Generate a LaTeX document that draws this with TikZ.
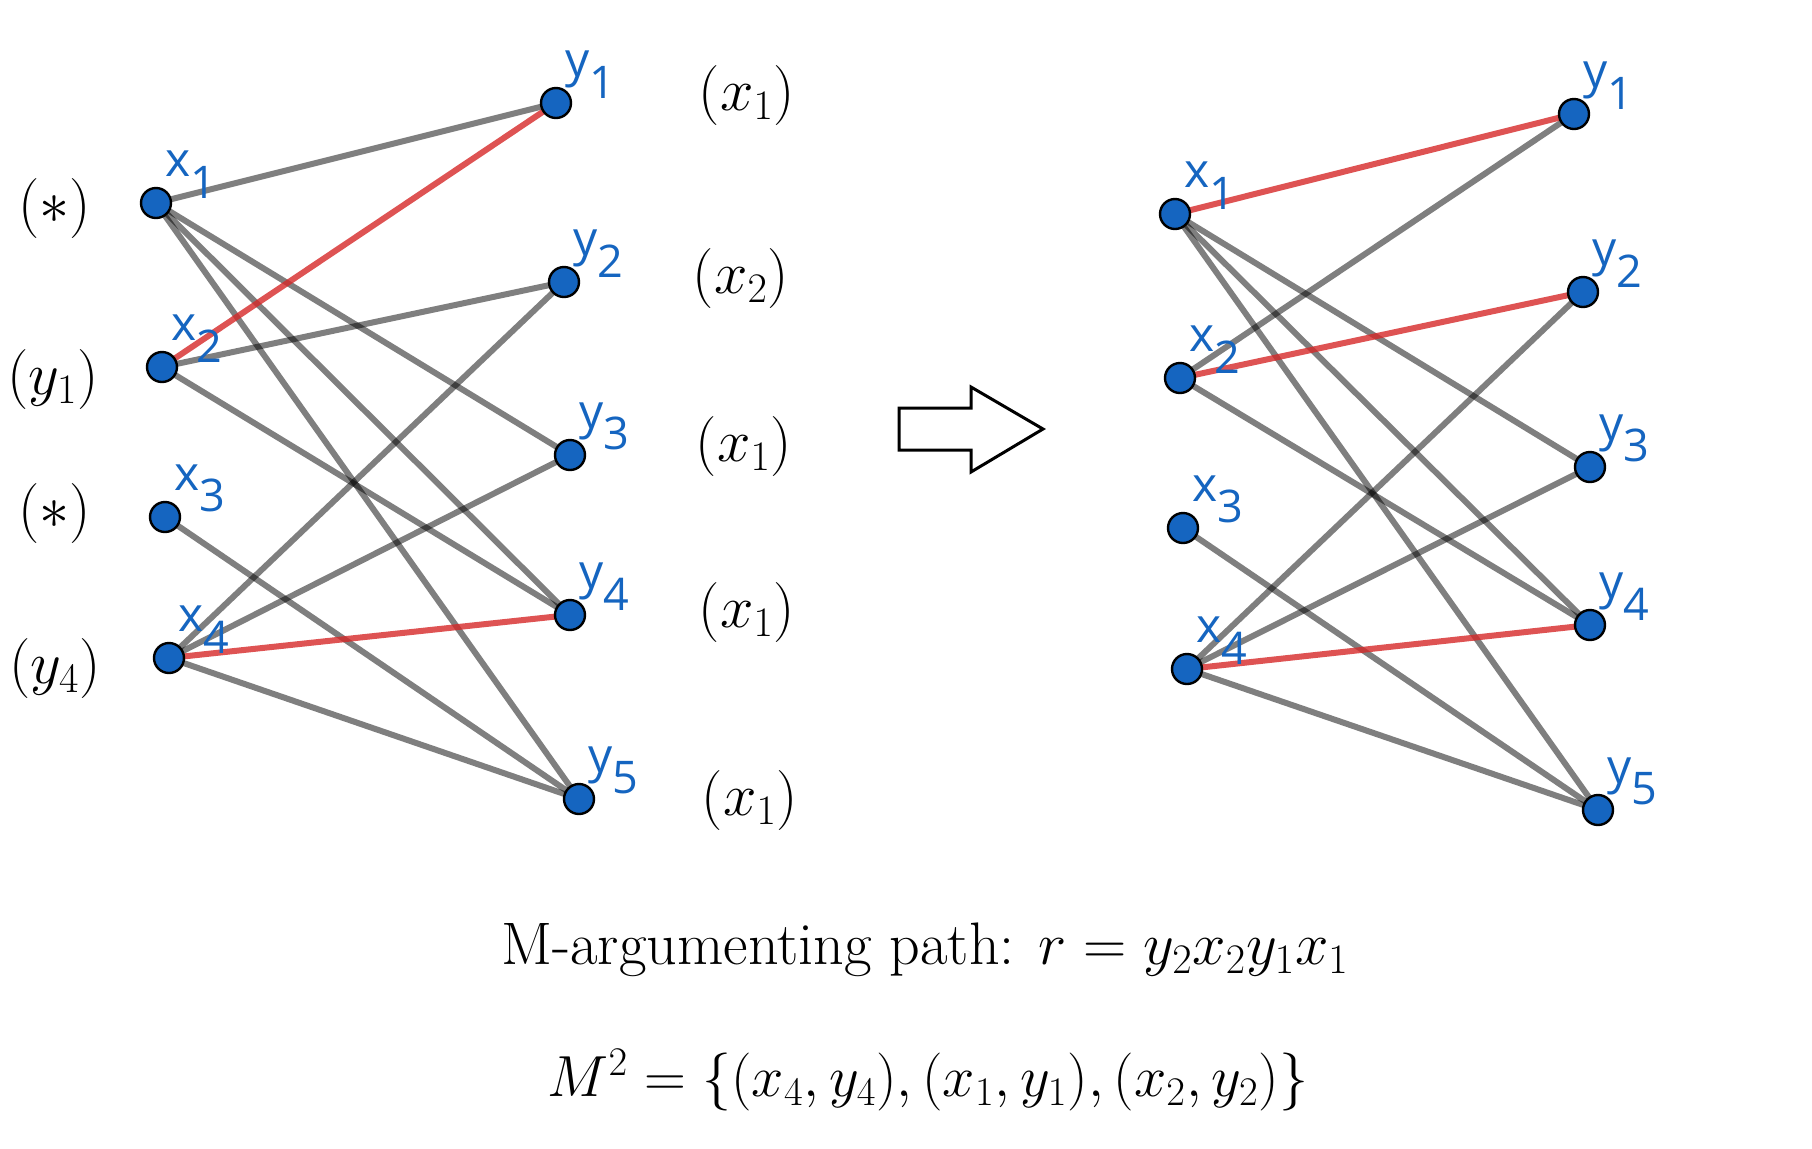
\documentclass[tikz,border=0pt]{standalone}
\usepackage{fix-cm}
\usepackage{fontspec}
\setsansfont{Open Sans}
\usetikzlibrary{positioning,backgrounds}
\definecolor{vblue}{RGB}{21,101,192}
\definecolor{ered}{RGB}{214,40,40}
\newcommand{\vlab}[2]{#1\raisebox{-0.45em}{\fontsize{22.5}{23}\selectfont#2}}

\begin{document}
\begin{tikzpicture}[
    x=0.5pt,y=-0.5pt,
    vertex/.style={circle,draw=black,line width=1.2pt,fill=vblue,minimum size=15pt,inner sep=0pt},
    vlabel/.style={text=vblue,font=\sffamily\fontsize{24}{24}\selectfont,inner sep=0pt,label distance=-1.5pt,yshift=-2.5pt},
    side/.style={font=\fontsize{30}{34}\selectfont,inner sep=0pt},
    caption/.style={font=\fontsize{30}{34}\selectfont,inner sep=0pt},
    edge/.style={line width=3pt,black,opacity=0.5},
    medge/.style={line width=3pt,ered,opacity=0.8}
]
    \useasboundingbox (0,0) rectangle (1812,1148);

    % Left graph: vertices
    \foreach \n/\px/\py in {1/156/203,2/162/367,3/165/517,4/169/658}
        \node[vertex,label={[vlabel]above right:\vlab{x}{\n}}] (lx\n) at (\px,\py) {};
    \foreach \n/\px/\py in {1/556/103,2/564/282,3/570/455,4/570/615,5/579/799}
        \node[vertex,label={[vlabel]above right:\vlab{y}{\n}}] (ly\n) at (\px,\py) {};

    % Right graph: vertices
    \foreach \n/\px/\py in {1/1175/214,2/1180/378,3/1183/528,4/1187/669}
        \node[vertex,label={[vlabel]above right:\vlab{x}{\n}}] (rx\n) at (\px,\py) {};
    \foreach \n/\px/\py in {1/1574/114,2/1583/292,3/1590/467,4/1590/625,5/1598/810}
        \node[vertex,label={[vlabel]above right:\vlab{y}{\n}}] (ry\n) at (\px,\py) {};

    % Marks of the search
    \node[side] (mx1) at (55,208) {$(\ast)$};
    \node[side] (mx2) at (53,379) {$(y_1)$};
    \node[side] (mx3) at (55,513) {$(\ast)$};
    \node[side] (mx4) at (55,668) {$(y_4)$};
    \node[side] (my1) at (747,95) {$(x_1)$};
    \node[side] (my2) at (741,278) {$(x_2)$};
    \node[side] (my3) at (744,446) {$(x_1)$};
    \node[side] (my4) at (747,612) {$(x_1)$};
    \node[side] (my5) at (750,800) {$(x_1)$};

    % Edges, matching in red
    \begin{scope}[on background layer]
    \foreach \a/\b in {1/1,1/3,1/4,1/5,2/2,2/4,3/5,4/2,4/3,4/5}
        \draw[edge] (lx\a.center) -- (ly\b.center);
    \foreach \a/\b in {2/1,4/4}
        \draw[medge] (lx\a.center) -- (ly\b.center);
    \foreach \a/\b in {1/3,1/4,1/5,2/1,2/4,3/5,4/2,4/3,4/5}
        \draw[edge] (rx\a.center) -- (ry\b.center);
    \foreach \a/\b in {1/1,2/2,4/4}
        \draw[medge] (rx\a.center) -- (ry\b.center);
    \end{scope}

    % Block arrow
    \draw[line width=1.5pt,fill=white] (899,408) -- (971,408) -- (971,387) -- (1043,429)
        -- (971,472) -- (971,450) -- (899,450) -- cycle;

    % Caption
    \node[caption] (path) at (925,950) {M-argumenting path: $r=y_2x_2y_1x_1$};
    \node[caption,font=\fontsize{29}{34}\selectfont] (match) at (928,1080) {$M^2=\bigl\{(x_4,y_4),(x_1,y_1),(x_2,y_2)\bigr\}$};
\end{tikzpicture}
\end{document}
